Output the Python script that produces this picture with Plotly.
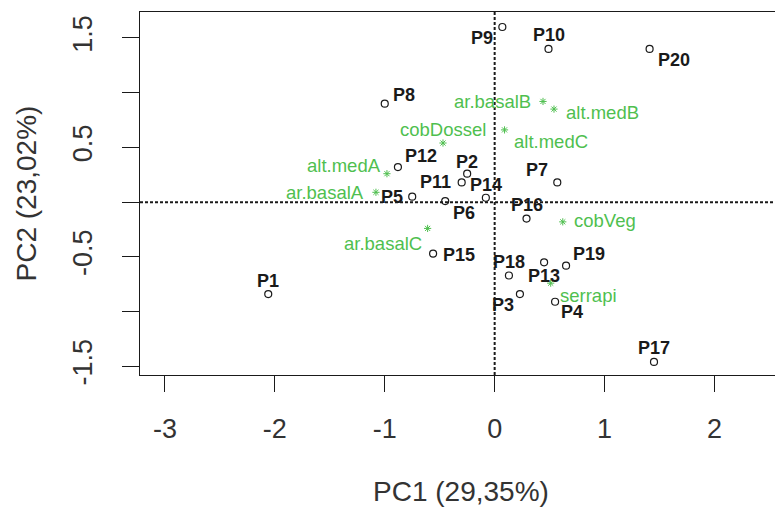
import plotly.graph_objects as go

# ---------------- data ----------------
samples = ["P1", "P2", "P3", "P4", "P5", "P6", "P7", "P8", "P9", "P10",
           "P11", "P12", "P13", "P14", "P15", "P16", "P17", "P18", "P19", "P20"]
pc1 = [-2.06, -0.25, 0.23, 0.55, -0.75, -0.45, 0.57, -1.00, 0.07, 0.49,
       -0.30, -0.88, 0.45, -0.08, -0.56, 0.29, 1.45, 0.13, 0.65, 1.41]
pc2 = [-0.84, 0.26, -0.84, -0.91, 0.05, 0.01, 0.18, 0.90, 1.60, 1.40,
       0.18, 0.32, -0.55, 0.04, -0.47, -0.15, -1.46, -0.67, -0.58, 1.40]

variables = ["ar.basalB", "alt.medB", "alt.medC", "cobDossel", "alt.medA",
             "ar.basalA", "ar.basalC", "cobVeg", "serrapi"]
load1 = [0.44, 0.54, 0.09, -0.47, -0.98, -1.08, -0.61, 0.62, 0.51]
load2 = [0.92, 0.85, 0.66, 0.54, 0.26, 0.09, -0.24, -0.18, -0.74]

x_ticks = [-3, -2, -1, 0, 1, 2]
y_ticks = [-1.5, -1.0, -0.5, 0.0, 0.5, 1.0, 1.5]
y_tick_text = ["-1.5", "", "-0.5", "", "0.5", "", "1.5"]

x_title = "PC1 (29,35%)"
y_title = "PC2 (23,02%)"

# ---------------- style ----------------
FONT = "Liberation Sans, Arial, sans-serif"
GREEN = "#4FBF4F"
INK = "#1a1a1a"
AXIS_INK = "#333333"

# label placement relative to its mark: (xanchor, xshift px, down-shift px)
sample_label_style = {
    "P1": ("center", 0, -13), "P2": ("center", 0, -12), "P3": ("right", -4, 11),
    "P4": ("left", 4, 10), "P5": ("right", -7, 0), "P6": ("left", 6, 12),
    "P7": ("right", -7, -12), "P8": ("left", 6, -9), "P9": ("right", -7, 11),
    "P10": ("center", 0, -14), "P11": ("right", -9, 0), "P12": ("left", 5, -11),
    "P13": ("center", 0, 14), "P14": ("center", 0, -13), "P15": ("left", 8, 1),
    "P16": ("center", 0, -14), "P17": ("center", 0, -14), "P18": ("center", 0, -13),
    "P19": ("left", 5, -12), "P20": ("left", 6, 11),
}
variable_label_style = {
    "ar.basalB": ("right", -10, 0), "alt.medB": ("left", 10, 3),
    "alt.medC": ("left", 7, 12), "cobDossel": ("center", 0, -14),
    "alt.medA": ("right", -4, -8), "ar.basalA": ("right", -10, 0),
    "ar.basalC": ("right", -4, 15), "cobVeg": ("left", 9, -1),
    "serrapi": ("left", 7, 12),
}

fig = go.Figure()

fig.add_trace(go.Scatter(
    x=pc1, y=pc2, mode="markers", showlegend=False, hoverinfo="skip",
    marker=dict(symbol="circle-open", size=7, color=INK, line=dict(width=1.2, color=INK)),
))
fig.add_trace(go.Scatter(
    x=load1, y=load2, mode="markers", showlegend=False, hoverinfo="skip",
    marker=dict(symbol="asterisk-open", size=6, color=GREEN, line=dict(width=1, color=GREEN)),
))

annotations = []
for name, x, y in zip(samples, pc1, pc2):
    anc, dx, dy = sample_label_style[name]
    annotations.append(dict(x=x, y=y, xref="x", yref="y", text=name, showarrow=False,
                            xanchor=anc, yanchor="middle", xshift=dx, yshift=-dy,
                            font=dict(family=FONT, size=18, color=INK, weight="bold")))
for name, x, y in zip(variables, load1, load2):
    anc, dx, dy = variable_label_style[name]
    annotations.append(dict(x=x, y=y, xref="x", yref="y", text=name, showarrow=False,
                            xanchor=anc, yanchor="middle", xshift=dx, yshift=-dy,
                            font=dict(family=FONT, size=18.5, color=GREEN)))

annotations.append(dict(x=(461 - 140) / 635, y=(375 - 491) / 363, xref="paper", yref="paper",
                        text=x_title, showarrow=False, xanchor="center", yanchor="middle",
                        font=dict(family=FONT, size=28, color=AXIS_INK)))
annotations.append(dict(x=(26 - 140) / 635, y=0.5, xref="paper", yref="paper", text=y_title,
                        showarrow=False, xanchor="center", yanchor="middle", textangle=-90,
                        font=dict(family=FONT, size=28, color=AXIS_INK)))

dotline = dict(color=INK, width=2, dash="3px,2px")
fig.add_shape(type="line", xref="x", yref="paper", x0=0, x1=0, y0=0, y1=1, line=dotline, layer="below")
fig.add_shape(type="line", xref="paper", yref="y", x0=0, x1=1, y0=0, y1=0, line=dotline, layer="below")

fig.update_layout(
    width=775, height=510,
    margin=dict(l=140, r=0, t=12, b=135),
    paper_bgcolor="white", plot_bgcolor="white",
    annotations=annotations,
    font=dict(family=FONT, color=AXIS_INK),
)
fig.update_xaxes(
    range=[-3.227, 2.551], tickvals=x_ticks, ticktext=[str(v) for v in x_ticks],
    ticks="outside", ticklen=16, tickwidth=1.2, tickcolor=INK,
    showline=True, linecolor=INK, linewidth=1.4, mirror=True,
    showgrid=False, zeroline=False, ticklabelstandoff=13,
    tickfont=dict(family=FONT, size=27, color=AXIS_INK),
)
fig.update_yaxes(
    range=[-1.579, 1.737], tickvals=y_ticks, ticktext=y_tick_text, tickangle=-90,
    ticks="outside", ticklen=17, tickwidth=1.2, tickcolor=INK,
    showline=True, linecolor=INK, linewidth=1.4, mirror=False,
    showgrid=False, zeroline=False, ticklabelstandoff=19,
    tickfont=dict(family=FONT, size=27, color=AXIS_INK),
)

# remove the browser's default 8px page margin so the figure sits at the window's corner
fig.write_html("out.html", config={"displayModeBar": False},
               post_script="document.body.style.margin='0px';")
